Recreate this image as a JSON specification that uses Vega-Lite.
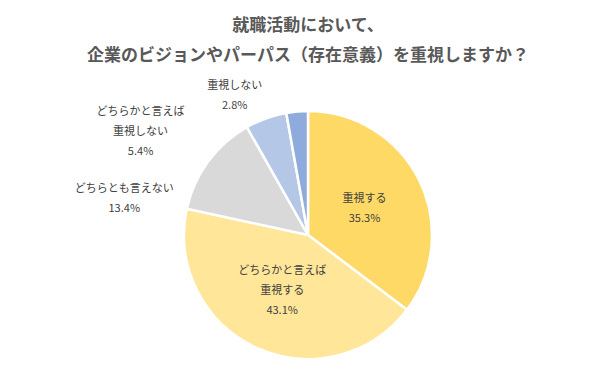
{
  "$schema": "https://vega.github.io/schema/vega-lite/v6.json",
  "autosize": "none",
  "width": 616,
  "height": 320,
  "padding": {"top": 75, "left": 0, "right": 0, "bottom": 0},
  "background": "white",
  "title": {
    "text": ["就職活動において、", "企業のビジョンやパーパス（存在意義）を重視しますか？"],
    "font": "Noto Sans CJK JP",
    "fontSize": 17,
    "fontWeight": "bold",
    "color": "#595959",
    "lineHeight": 30,
    "anchor": "middle",
    "frame": "group",
    "offset": 10
  },
  "config": {
    "view": {"stroke": null},
    "text": {"font": "Noto Sans CJK JP", "fontSize": 11, "color": "#404040", "lineHeight": 20, "lineBreak": "\n", "align": "center", "baseline": "middle"}
  },
  "data": {
    "values": [
      {"category": "重視する", "value": 35.3, "order": 1, "label": "重視する\n35.3%"},
      {"category": "どちらかと言えば重視する", "value": 43.1, "order": 2, "label": "どちらかと言えば\n重視する\n43.1%"},
      {"category": "どちらとも言えない", "value": 13.4, "order": 3, "label": "どちらとも言えない\n13.4%"},
      {"category": "どちらかと言えば重視しない", "value": 5.4, "order": 4, "label": "どちらかと言えば\n重視しない\n5.4%"},
      {"category": "重視しない", "value": 2.8, "order": 5, "label": "重視しない\n2.8%"}
    ]
  },
  "encoding": {
    "theta": {"field": "value", "type": "quantitative", "stack": true, "scale": {"domain": [0, 100]}},
    "order": {"field": "order", "type": "quantitative", "sort": "ascending"}
  },
  "layer": [
    {
      "mark": {"type": "arc", "outerRadius": 124, "stroke": "white", "strokeWidth": 2.5},
      "encoding": {
        "color": {
          "field": "category",
          "type": "nominal",
          "legend": null,
          "scale": {
            "domain": ["重視する", "どちらかと言えば重視する", "どちらとも言えない", "どちらかと言えば重視しない", "重視しない"],
            "range": ["#FFD966", "#FFE699", "#D9D9D9", "#B4C7E7", "#8FAADC"]
          }
        }
      }
    },
    {
      "mark": {"type": "text", "dx": 1, "dy": -8},
      "encoding": {
        "radius": {"value": 62},
        "text": {"condition": {"test": "datum.order == 1", "field": "label"}, "value": ""}
      }
    },
    {
      "mark": {"type": "text", "dx": 0, "dy": -20},
      "encoding": {
        "radius": {"value": 62},
        "text": {"condition": {"test": "datum.order == 2", "field": "label"}, "value": ""}
      }
    },
    {
      "mark": {"type": "text", "dx": -71, "dy": 37},
      "encoding": {
        "radius": {"value": 140},
        "text": {"condition": {"test": "datum.order == 3", "field": "label"}, "value": ""}
      }
    },
    {
      "mark": {"type": "text", "dx": -120, "dy": 9},
      "encoding": {
        "radius": {"value": 140},
        "text": {"condition": {"test": "datum.order == 4", "field": "label"}, "value": ""}
      }
    },
    {
      "mark": {"type": "text", "dx": -61, "dy": -10},
      "encoding": {
        "radius": {"value": 140},
        "text": {"condition": {"test": "datum.order == 5", "field": "label"}, "value": ""}
      }
    }
  ]
}
